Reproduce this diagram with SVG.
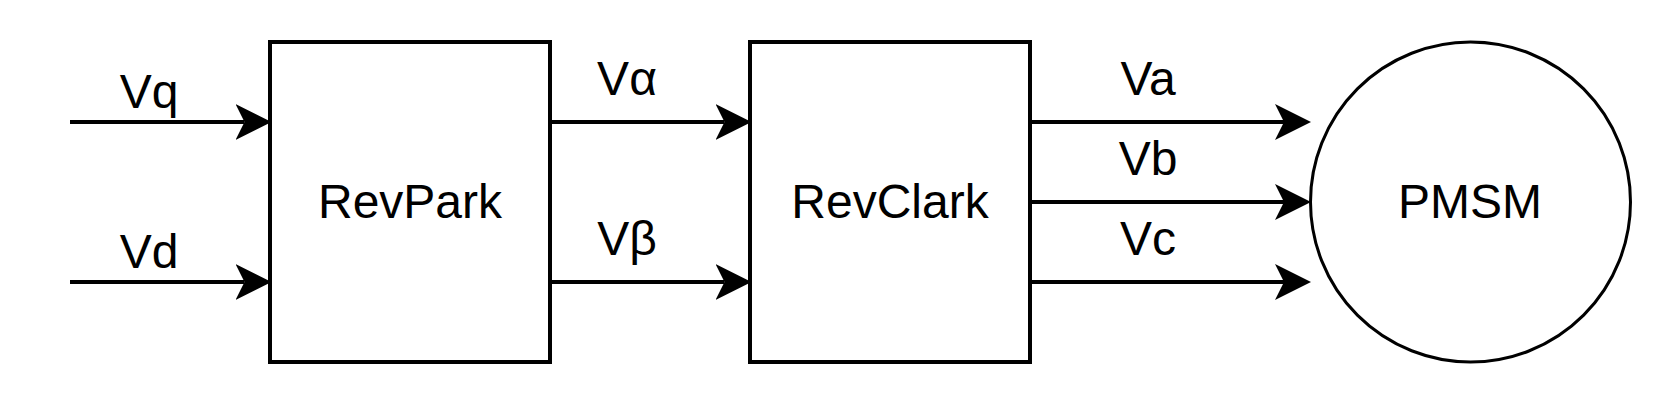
<svg xmlns="http://www.w3.org/2000/svg" width="1672" height="404" viewBox="0 0 1672 404">
  <style>
    .box { fill: #ffffff; stroke: #000000; stroke-width: 4; }
    .circ { fill: #ffffff; stroke: #000000; stroke-width: 3; }
    .edge { fill: none; stroke: #000000; stroke-width: 4; }
    .lbl { font-family: "Liberation Sans", Arial, sans-serif; font-size: 48px; fill: #000000; text-anchor: middle; }
  </style>
  <defs>
    <marker id="arr" markerUnits="userSpaceOnUse" markerWidth="36" markerHeight="36" viewBox="0 0 34 34" refX="8.5" refY="17" orient="auto">
      <path d="M0,0 L34,17 L0,34 L8.5,17 Z" fill="#000000"/>
    </marker>
  </defs>
  <rect width="1672" height="404" fill="#ffffff"/>

  <g id="connectors">
    <line class="edge" x1="70" y1="122" x2="244.5" y2="122" marker-end="url(#arr)"/>
    <line class="edge" x1="70" y1="282" x2="244.5" y2="282" marker-end="url(#arr)"/>
    <line class="edge" x1="550" y1="122" x2="724.5" y2="122" marker-end="url(#arr)"/>
    <line class="edge" x1="550" y1="282" x2="724.5" y2="282" marker-end="url(#arr)"/>
    <line class="edge" x1="1030" y1="122" x2="1284" y2="122" marker-end="url(#arr)"/>
    <line class="edge" x1="1030" y1="202" x2="1284" y2="202" marker-end="url(#arr)"/>
    <line class="edge" x1="1030" y1="282" x2="1284" y2="282" marker-end="url(#arr)"/>
    <text class="lbl" x="149" y="108">Vq</text>
    <text class="lbl" x="149" y="268">Vd</text>
    <text class="lbl" x="627" y="95">Vα</text>
    <text class="lbl" x="627" y="255">Vβ</text>
    <text class="lbl" x="1148" y="95">Va</text>
    <text class="lbl" x="1148" y="175">Vb</text>
    <text class="lbl" x="1148" y="255">Vc</text>
  </g>

  <g id="revpark">
    <rect class="box" x="270" y="42" width="280" height="320"/>
    <text class="lbl" x="410" y="218">RevPark</text>
  </g>
  <g id="revclark">
    <rect class="box" x="750" y="42" width="280" height="320"/>
    <text class="lbl" x="890" y="218">RevClark</text>
  </g>
  <g id="pmsm">
    <circle class="circ" cx="1470.5" cy="202" r="160"/>
    <text class="lbl" x="1470" y="218">PMSM</text>
  </g>
</svg>
